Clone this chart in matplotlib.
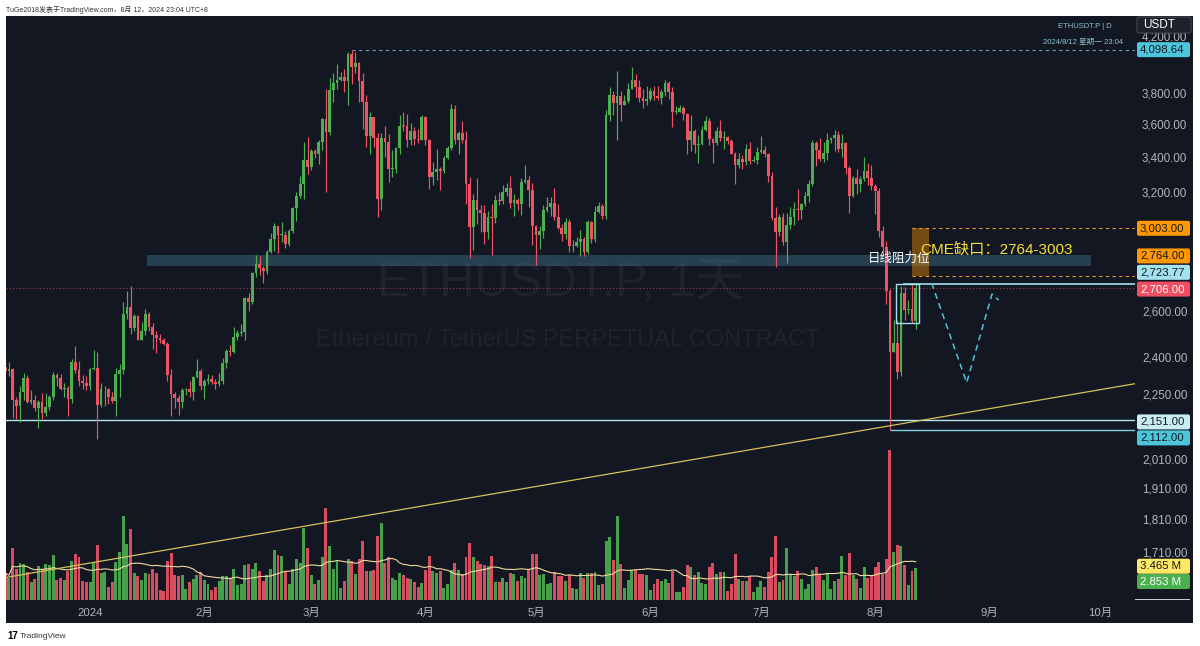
#! /usr/bin/env python3

import matplotlib
matplotlib.use("Agg")
import matplotlib.pyplot as plt
import matplotlib.dates as mdates
from matplotlib.patches import Rectangle, FancyBboxPatch
from matplotlib.ticker import NullLocator, NullFormatter
from matplotlib.transforms import IdentityTransform
import numpy
import pandas

plt.rcParams["font.family"] = ["Liberation Sans", "Noto Sans CJK SC", "DejaVu Sans"]

"""
Données (ETHUSDT.P, bougies journalières, volume en millions).
"""

first_day = "2023-12-09"
last_day  = "2024-08-12"
open0     = 2358.0

closes = [
    # déc. 2023
    2341, 2352, 2225, 2202, 2260, 2315, 2220, 2228, 2196, 2218, 2177, 2200,
    2240, 2326, 2315, 2270, 2272, 2230, 2378, 2345, 2300, 2292, 2282,
    # janv.
    2352, 2356, 2209, 2268, 2268, 2240, 2222, 2330, 2345, 2585, 2620, 2523,
    2578, 2472, 2510, 2588, 2528, 2495, 2480, 2470, 2455, 2327, 2250, 2236,
    2218, 2267, 2268, 2257, 2317, 2343, 2283,
    # févr.
    2303, 2310, 2298, 2290, 2300, 2375, 2425, 2420, 2485, 2503, 2507, 2658,
    2642, 2777, 2823, 2804, 2786, 2881, 2945, 3015, 2970, 2970, 2922, 2991,
    3113, 3177, 3245, 3384, 3340,
    # mars
    3433, 3420, 3488, 3630, 3553, 3818, 3868, 3885, 3910, 3880, 4065, 3980,
    4005, 3880, 3740, 3525, 3645, 3515, 3160, 3515, 3492, 3330, 3330, 3455,
    3590, 3588, 3500, 3560, 3510, 3505, 3645,
    # avr.
    3505, 3282, 3310, 3330, 3320, 3395, 3453, 3695, 3505, 3545, 3505, 3245,
    3010, 3155, 3100, 3085, 2985, 3065, 3055, 3155, 3147, 3198, 3220, 3138,
    3155, 3130, 3255, 3265, 3212, 3015,
    # mai
    2970, 2990, 3102, 3118, 3137, 3063, 3005, 2975, 3035, 2910, 2912, 2930,
    2950, 2880, 3035, 2945, 3092, 3120, 3070, 3660, 3790, 3735, 3780, 3725,
    3750, 3825, 3890, 3842, 3767, 3748, 3760,
    # juin
    3813, 3780, 3766, 3810, 3865, 3810, 3680, 3680, 3705, 3665, 3500, 3560,
    3470, 3480, 3565, 3622, 3510, 3482, 3560, 3515, 3518, 3495, 3420, 3350,
    3390, 3370, 3450, 3375, 3380, 3432,
    # juil.
    3440, 3415, 3290, 3055, 2982, 3065, 2930, 3020, 3065, 3105, 3100, 3130,
    3178, 3245, 3485, 3442, 3388, 3425, 3505, 3515, 3535, 3445, 3485, 3335,
    3175, 3275, 3245, 3270, 3320, 3280, 3232,
    # août
    3205, 2988, 2905, 2690, 2420, 2460, 2340, 2685, 2605, 2610, 2556, 2706,
]

highs = [
    2403, 2380, 2354, 2240, 2280, 2335, 2325, 2265, 2245, 2225, 2255, 2255,
    2245, 2340, 2335, 2330, 2295, 2280, 2390, 2445, 2385, 2325, 2320,
    2355, 2430, 2420, 2295, 2280, 2275, 2260, 2355, 2370, 2640, 2690, 2717,
    2585, 2580, 2550, 2610, 2595, 2545, 2510, 2500, 2480, 2465, 2350, 2260,
    2245, 2275, 2275, 2300, 2320, 2390, 2350,
    2310, 2330, 2325, 2310, 2335, 2395, 2435, 2450, 2530, 2515, 2540, 2665,
    2685, 2785, 2865, 2860, 2810, 2890, 2980, 3030, 3015, 3035, 2990, 3000,
    3115, 3200, 3290, 3490, 3520,
    3450, 3450, 3500, 3640, 3825, 3900, 3935, 3995, 3940, 3960, 4085, 4098.64,
    4085, 4010, 3935, 3785, 3675, 3625, 3545, 3545, 3590, 3540, 3440, 3460,
    3660, 3680, 3665, 3610, 3585, 3570, 3655,
    3650, 3510, 3370, 3445, 3340, 3405, 3465, 3730, 3725, 3560, 3620, 3555,
    3285, 3185, 3280, 3125, 3125, 3095, 3130, 3180, 3200, 3240, 3250, 3290,
    3190, 3165, 3280, 3355, 3290, 3250,
    3020, 3015, 3125, 3170, 3170, 3220, 3130, 3025, 3055, 3050, 2940, 2960,
    2995, 2960, 3045, 3040, 3120, 3145, 3130, 3690, 3840, 3815, 3950, 3815,
    3790, 3870, 3975, 3930, 3885, 3825, 3845,
    3835, 3845, 3850, 3830, 3890, 3880, 3840, 3715, 3720, 3715, 3670, 3655,
    3570, 3535, 3590, 3650, 3640, 3515, 3585, 3625, 3555, 3525, 3510, 3430,
    3425, 3410, 3480, 3490, 3405, 3460,
    3525, 3465, 3425, 3310, 3115, 3080, 3085, 3085, 3115, 3145, 3215, 3140,
    3200, 3265, 3500, 3495, 3515, 3490, 3545, 3520, 3565, 3560, 3540, 3490,
    3345, 3290, 3330, 3290, 3400, 3365, 3350,
    3245, 3220, 3015, 2935, 2700, 2560, 2560, 2715, 2710, 2650, 2720, 2723,
]

lows = [
    2330, 2320, 2160, 2155, 2145, 2225, 2215, 2210, 2185, 2120, 2155, 2165,
    2190, 2225, 2280, 2265, 2240, 2165, 2215, 2335, 2280, 2270, 2265,
    2265, 2345, 2080, 2200, 2205, 2210, 2215, 2165, 2240, 2330, 2565, 2500,
    2510, 2470, 2470, 2495, 2510, 2435, 2415, 2460, 2450, 2300, 2165, 2195,
    2170, 2195, 2245, 2240, 2225, 2315, 2265,
    2230, 2290, 2290, 2270, 2280, 2290, 2355, 2405, 2415, 2470, 2490, 2470,
    2600, 2630, 2760, 2770, 2730, 2775, 2875, 2885, 2875, 2930, 2900, 2910,
    2980, 3040, 3165, 3160, 3300,
    3325, 3395, 3360, 3440, 3200, 3530, 3740, 3830, 3880, 3805, 3725, 3860,
    3935, 3740, 3570, 3460, 3415, 3460, 3060, 3100, 3400, 3255, 3285, 3305,
    3420, 3555, 3460, 3470, 3470, 3485, 3500,
    3470, 3215, 3240, 3265, 3210, 3305, 3390, 3440, 3480, 3420, 3485, 3130,
    2850, 2890, 3025, 2985, 2920, 2945, 2865, 3030, 3125, 3135, 3175, 3110,
    3070, 3100, 3075, 3250, 3115, 2915,
    2815, 2895, 2955, 3090, 3070, 3045, 3000, 2935, 2945, 2880, 2880, 2905,
    2860, 2860, 2870, 2925, 2930, 3085, 3050, 3050, 3620, 3655, 3500, 3620,
    3720, 3735, 3825, 3775, 3740, 3700, 3720,
    3750, 3755, 3755, 3730, 3780, 3760, 3580, 3665, 3675, 3625, 3420, 3435,
    3425, 3365, 3470, 3555, 3470, 3365, 3470, 3495, 3445, 3480, 3415, 3245,
    3335, 3330, 3355, 3360, 3370, 3360,
    3425, 3400, 3255, 3045, 2805, 2965, 2915, 2825, 3000, 3020, 3045, 3050,
    3120, 3145, 3235, 3345, 3375, 3370, 3380, 3485, 3435, 3430, 3400, 3300,
    3085, 3170, 3190, 3200, 3260, 3240, 3210,
    3080, 2960, 2860, 2630, 2112, 2420, 2310, 2320, 2560, 2585, 2545, 2520,
]

volumes = [
    2.4, 2.0, 4.6, 2.8, 3.3, 3.2, 2.5, 1.6, 1.9, 3.0, 2.8, 3.2,
    3.1, 4.0, 1.8, 2.0, 1.8, 2.6, 3.5, 4.1, 3.8, 1.7, 1.6,
    1.6, 3.3, 4.9, 2.4, 2.5, 1.2, 1.6, 3.4, 4.3, 7.5, 5.0, 6.3,
    2.4, 2.1, 1.8, 2.4, 2.3, 2.8, 2.4, 0.9, 0.8, 3.5, 4.2, 2.2,
    2.1, 2.2, 1.0, 1.6, 1.9, 2.2, 2.5,
    1.8, 1.4, 0.9, 1.2, 1.7, 2.1, 2.1, 2.0, 2.8, 1.3, 1.4, 3.1,
    3.2, 2.8, 3.3, 2.6, 1.7, 2.2, 2.8, 4.5, 4.0, 3.9, 2.5, 1.4,
    2.8, 3.7, 3.3, 6.4, 4.6,
    2.2, 1.4, 1.8, 3.8, 8.2, 4.8, 2.8, 3.5, 1.1, 1.7, 3.7, 3.5,
    2.3, 3.7, 5.3, 2.6, 2.6, 2.7, 5.7, 6.9, 3.3, 3.8, 2.0, 1.8,
    2.4, 2.2, 2.0, 1.9, 1.6, 1.2, 1.5,
    2.7, 3.9, 2.6, 2.4, 2.6, 1.1, 1.4, 2.7, 3.3, 2.7, 2.3, 3.8,
    5.1, 3.8, 3.5, 3.2, 3.1, 3.0, 3.9, 1.6, 1.6, 2.0, 1.6, 2.4,
    2.3, 1.7, 2.1, 2.0, 2.8, 4.1,
    4.1, 2.2, 2.3, 1.4, 1.5, 2.5, 2.1, 2.1, 1.7, 2.2, 1.1, 1.0,
    2.4, 2.0, 2.4, 2.4, 2.5, 1.3, 1.4, 5.3, 5.6, 3.6, 7.5, 3.2,
    1.1, 1.8, 2.7, 2.7, 2.3, 2.3, 2.2,
    0.9, 1.4, 1.9, 1.7, 1.9, 1.5, 2.6, 0.7, 0.7, 1.2, 3.1, 2.9,
    2.2, 2.5, 1.5, 1.4, 2.9, 3.3, 2.3, 2.5, 2.5, 0.8, 1.4, 4.1,
    1.9, 1.7, 1.7, 2.1, 0.7, 1.2,
    1.7, 1.2, 2.5, 3.8, 5.7, 1.6, 1.8, 4.6, 2.3, 2.1, 2.6, 1.9,
    1.0, 1.4, 2.7, 2.9, 2.3, 1.8, 2.3, 1.0, 1.7, 1.9, 3.9, 2.2,
    4.2, 2.2, 1.9, 1.1, 2.9, 2.0, 2.2,
    2.9, 3.4, 2.3, 3.7, 13.4, 4.3, 4.9, 4.8, 3.1, 1.3, 2.6, 2.853,
]

month_ticks  = ["2024-01-01", "2024-02-01", "2024-03-01", "2024-04-01", "2024-05-01",
                "2024-06-01", "2024-07-01", "2024-08-01", "2024-09-01", "2024-10-01"]
month_labels = ["2024", "2月", "3月", "4月", "5月", "6月", "7月", "8月", "9月", "10月"]
price_ticks  = [4200, 3800, 3600, 3400, 3200, 2600, 2400, 2250, 2010, 1910, 1810, 1710]

ath_price  = 4098.64
support    = 2151.0
crash_low  = 2112.0
gap_low    = 2764.0
gap_high   = 3003.0
box_top    = 2723.77
box_bottom = 2547.0
band_low   = 2810.0
band_high  = 2868.0

trend_dates  = ["2023-12-09 05:00", "2024-10-10 12:00"]
trend_prices = [1635.0, 2291.0]
path_dates   = ["2024-08-16 08:00", "2024-08-25 20:00", "2024-09-01 17:00", "2024-09-03 12:00"]
path_prices  = [2730.0, 2295.0, 2678.0, 2650.0]
ma_text      = "3.465 M"

"""
Couleurs.
"""

bg    = "#131722"
up    = "#4caf50"
down  = "#ef5366"
grey  = "#b2b5be"

def dn(s: str) -> float:
    return mdates.date2num(pandas.Timestamp(s))

def show_plot() -> None:
    dates  = pandas.date_range(first_day, last_day, freq="D")
    x      = mdates.date2num(dates.to_pydatetime())
    c      = numpy.array(closes, dtype=float)
    o      = numpy.concatenate(([open0], c[:-1]))
    colors = [up if cc >= oo else down for oo, cc in zip(o, c)]
    ma     = pandas.Series(volumes).rolling(20, min_periods=1).mean()

    xlim = (dn("2024-01-01") - 22.8, dn("2024-01-01") + 283.5)

    fig = plt.figure(figsize=(12, 6.46), dpi=100, facecolor="white")
    fig.add_artist(Rectangle((6, 23), 1187, 607, transform=IdentityTransform(),
                             facecolor=bg, edgecolor="none", zorder=-10))

    rect = [6 / 1200, 46 / 646, 1129 / 1200, 584 / 646]

    # volume
    axv = fig.add_axes(rect)
    axv.set_facecolor("none")
    axv.set_axis_off()
    axv.bar(x, volumes, width=0.8, color=colors, alpha=0.9, linewidth=0)
    axv.plot(x, ma, color="#efd9a0", lw=0.8)
    axv.set_xlim(xlim)
    axv.set_ylim(0, 52.1)
    axv.text(0.4907, 0.5428, "ETHUSDT.P, 1天", transform=axv.transAxes, ha="center",
             va="center", fontsize=35, color="white", alpha=0.05)
    axv.text(0.4978, 0.4452, "Ethereum / TetherUS PERPETUAL CONTRACT", transform=axv.transAxes,
             ha="center", va="center", fontsize=17, color="white", alpha=0.05)

    # prix
    ax = fig.add_axes(rect)
    ax.set_facecolor("none")
    ax.set_yscale("log")
    ax.set_xlim(xlim)
    ax.set_ylim(1572, 4346)

    ax.add_patch(Rectangle((dn("2024-01-16 12:00"), band_low),
                           dn("2024-09-28 14:00") - dn("2024-01-16 12:00"), band_high - band_low,
                           facecolor="#3a6a80", alpha=0.5, lw=0, zorder=1))
    ax.axhline(support, color="#b2e4ee", lw=1, zorder=2)
    ax.axhline(c[-1], color=down, lw=0.8, ls=(0, (1, 2)), alpha=0.6, zorder=2)
    ax.hlines(ath_price, dn("2024-03-12"), xlim[1], colors="#6f9db0", lw=0.8,
              linestyles=(0, (3, 3)), zorder=2)
    ax.hlines(crash_low, dn("2024-08-05"), xlim[1], colors="#7fd3e6", lw=1, zorder=2)

    ax.vlines(x, lows, highs, colors=colors, lw=0.85, zorder=3)
    ax.bar(x, numpy.maximum(numpy.abs(c - o), o * 0.0015), bottom=numpy.minimum(o, c),
           width=0.74, color=colors, lw=0, zorder=4)

    ax.add_patch(Rectangle((dn("2024-08-11"), gap_low), dn("2024-08-15 14:00") - dn("2024-08-11"),
                           gap_high - gap_low, facecolor="#ff9800", alpha=0.4, lw=0, zorder=2))
    ax.hlines([gap_low, gap_high], dn("2024-08-11"), xlim[1], colors="#e8962a", lw=0.8,
              linestyles=(0, (3, 3)), zorder=2)
    ax.add_patch(Rectangle((dn("2024-08-06 14:00"), box_bottom),
                           dn("2024-08-12 20:00") - dn("2024-08-06 14:00"), box_top - box_bottom,
                           facecolor="none", edgecolor="#9fe0ec", lw=1, zorder=5))
    ax.hlines(box_top, dn("2024-08-08 12:00"), xlim[1], colors="#9fe0ec", lw=1.2, zorder=5)
    ax.plot([dn(d) for d in path_dates], path_prices, color="#4fc3dc", lw=1.1,
            ls=(0, (4, 3)), zorder=5)
    ax.plot([dn(d) for d in trend_dates], trend_prices, color="#d6c15c", lw=0.9, zorder=5)

    ax.text(dn("2024-07-30 03:00"), 2847, "日线阻力位", color="white", fontsize=9,
            va="center", ha="left", zorder=6)
    ax.text(dn("2024-08-13 05:00"), 2892, "CME缺口：2764-3003", color="#f5e13a",
            fontsize=11, va="center", ha="left", zorder=6)

    # axes
    for s in ax.spines.values():
        s.set_visible(False)
    ax.yaxis.tick_right()
    ax.set_yticks(price_ticks)
    ax.set_yticklabels([f"{p:,.2f}" for p in price_ticks])
    ax.yaxis.set_minor_locator(NullLocator())
    ax.yaxis.set_minor_formatter(NullFormatter())
    ax.tick_params(axis="y", length=0, pad=5, labelsize=8.4, labelcolor=grey)
    ax.set_xticks([dn(m) for m in month_ticks])
    ax.set_xticklabels(month_labels)
    ax.tick_params(axis="x", length=0, pad=6, labelsize=8.2, labelcolor=grey)

    def tag(axis, value, text, face, ink, shift=0.0):
        y = axis.transData.transform((xlim[0], value))[1] + shift
        fig.add_artist(FancyBboxPatch((1137, y - 7.5), 53, 15,
                                      boxstyle="round,pad=0,rounding_size=2",
                                      transform=IdentityTransform(), facecolor=face,
                                      edgecolor="none", zorder=5))
        fig.text(1140, y, text, transform=IdentityTransform(), color=ink, fontsize=8.2,
                 va="center", ha="left", zorder=6)

    tag(ax, ath_price, f"{ath_price:,.2f}", "#4dc6dc", bg)
    tag(ax, gap_high, f"{gap_high:,.2f}", "#ff9800", bg)
    tag(ax, gap_low, f"{gap_low:,.2f}", "#ff9800", bg, 20)
    tag(ax, box_top, f"{box_top:,.2f}", "#a4e2ee", bg, 12)
    tag(ax, c[-1], f"{c[-1]:,.2f}", "#f04e62", "white", -1)
    tag(ax, support, f"{support:,.2f}", "#c8eef4", bg, -2)
    tag(ax, crash_low, f"{crash_low:,.2f}", "#4dc6dc", bg, -7.5)
    tag(axv, ma.iloc[-1], ma_text, "#ffe866", bg, -4.5)
    tag(axv, volumes[-1], f"{volumes[-1]:.3f} M", "#4caf50", "white", -13.5)

    fig.add_artist(Rectangle((1135, 46), 55, 1, transform=IdentityTransform(),
                             facecolor="#c9ccd3", edgecolor="none", zorder=5))
    fig.add_artist(FancyBboxPatch((1137, 613), 54, 16, boxstyle="round,pad=0,rounding_size=2",
                                  transform=IdentityTransform(), facecolor="#1e222d",
                                  edgecolor="#434651", lw=0.8, zorder=5))
    fig.text(1143, 621, "USDT", transform=IdentityTransform(), color="white", fontsize=8.5,
             va="center", ha="left", zorder=6)

    fig.text(1085, 619, "ETHUSDT.P | D", transform=IdentityTransform(), color="#8cc3d4",
             fontsize=5.5, ha="center", va="center")
    fig.text(1083, 604, "2024/8/12 星期一 23:04", transform=IdentityTransform(), color="#8cc3d4",
             fontsize=5.5, ha="center", va="center")
    fig.text(6, 636, "TuGe2018发表于TradingView.com，8月 12，2024 23:04 UTC+8",
             transform=IdentityTransform(), color="#333333", fontsize=5, va="center")
    fig.text(7, 10, "17", transform=IdentityTransform(), color="black", fontsize=7,
             fontweight="bold", va="center")
    fig.text(20, 10, "TradingView", transform=IdentityTransform(), color="#333333",
             fontsize=6, va="center")

    fig.savefig("out.png", dpi=100, facecolor="white")

show_plot()
